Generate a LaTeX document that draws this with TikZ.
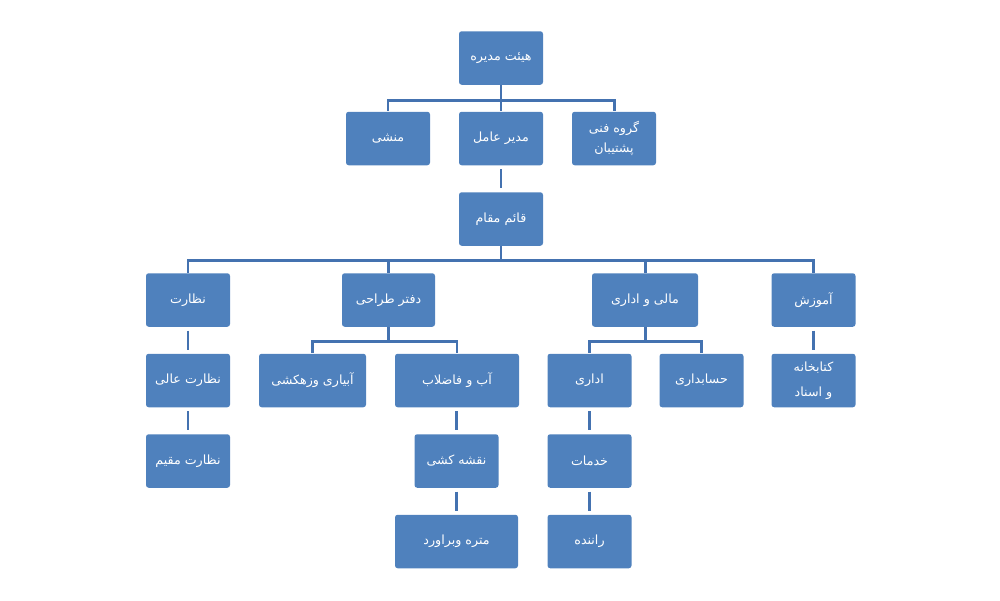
\documentclass[tikz,border=0pt]{standalone}
\usepackage{fontspec}
\newfontfamily\arabicfont[Script=Arabic]{DejaVu Sans}
\TeXXeTstate=1
\newcommand{\rtl}[1]{\beginR#1\endR}
\definecolor{boxblue}{RGB}{79,129,189}
\definecolor{lineblue}{RGB}{68,114,176}
\tikzset{
  box/.style={rectangle, rounded corners=1.5pt, fill=boxblue, text=white, minimum width=1.68cm, minimum height=1.07cm, align=center, font=\arabicfont\fontsize{7.2}{11}\selectfont, inner sep=1pt},
  link/.style={draw=lineblue, line width=1.7pt},
}
\begin{document}
\begin{tikzpicture}
	\useasboundingbox (0,0) rectangle (20,-12);
	% هیئت مدیره و زیرمجموعه
	\node[box] (board) at (10.02,-1.16) {\rtl{هیئت مدیره}};
	\node[box] (secretary) at (7.76,-2.77) {\rtl{منشی}};
	\node[box] (ceo) at (10.02,-2.77) {\rtl{مدیر عامل}};
	\node[box] (techgroup) at (12.28,-2.77) {\rtl{گروه فنی}\\\rtl{پشتیبان}};
	\node[box] (deputy) at (10.02,-4.38) {\rtl{قائم مقام}};
	% ردیف سوم
	\node[box] (supervision) at (3.76,-6.0) {\rtl{نظارت}};
	\node[box, minimum width=1.86cm] (design) at (7.77,-6.0) {\rtl{دفتر طراحی}};
	\node[box, minimum width=2.12cm] (finance) at (12.9,-6.0) {\rtl{مالی و اداری}};
	\node[box] (training) at (16.27,-6.0) {\rtl{آموزش}};
	% ردیف چهارم
	\node[box] (highsup) at (3.76,-7.61) {\rtl{نظارت عالی}};
	\node[box, minimum width=2.14cm] (irrigation) at (6.25,-7.61) {\rtl{آبیاری وزهکشی}};
	\node[box, minimum width=2.48cm] (water) at (9.14,-7.61) {\rtl{آب و فاضلاب}};
	\node[box] (admin) at (11.79,-7.61) {\rtl{اداری}};
	\node[box] (accounting) at (14.03,-7.61) {\rtl{حسابداری}};
	\node[box] (library) at (16.27,-7.61) {\rtl{کتابخانه}\\[3pt]\rtl{و اسناد}};
	% ردیف پنجم و ششم
	\node[box] (residentsup) at (3.76,-9.22) {\rtl{نظارت مقیم}};
	\node[box] (drafting) at (9.13,-9.22) {\rtl{نقشه کشی}};
	\node[box] (services) at (11.79,-9.22) {\rtl{خدمات}};
	\node[box, minimum width=2.46cm] (estimate) at (9.13,-10.83) {\rtl{متره وبراورد}};
	\node[box] (driver) at (11.79,-10.83) {\rtl{راننده}};
	% اتصال ها
	\draw[link] (board.south) -- (board.south |- 0,-2.0) coordinate (f1);
	\draw[link] (f1) -| (secretary.north);
	\draw[link] (f1) -| (techgroup.north);
	\draw[link] (f1) -- (ceo.north);
	\draw[link, shorten <=2pt, shorten >=2pt] (ceo) -- (deputy);
	\draw[link] (deputy.south) -- (deputy.south |- 0,-5.2) coordinate (f2);
	\foreach \n in {supervision, design, finance, training}
		\draw[link] (f2) -| (\n.north);
	\draw[link] (design.south) -- (design.south |- 0,-6.82) coordinate (f3);
	\draw[link] (f3) -| (irrigation.north);
	\draw[link] (f3) -| (water.north);
	\draw[link] (finance.south) -- (finance.south |- 0,-6.82) coordinate (f4);
	\draw[link] (f4) -| (admin.north);
	\draw[link] (f4) -| (accounting.north);
	\draw[link, shorten <=2pt, shorten >=2pt] (training) -- (library);
	\draw[link, shorten <=2pt, shorten >=2pt] (supervision) -- (highsup);
	\draw[link, shorten <=2pt, shorten >=2pt] (highsup) -- (residentsup);
	\draw[link, shorten <=2pt, shorten >=2pt] (water.south -| drafting) -- (drafting);
	\draw[link, shorten <=2pt, shorten >=2pt] (drafting) -- (estimate);
	\draw[link, shorten <=2pt, shorten >=2pt] (admin) -- (services);
	\draw[link, shorten <=2pt, shorten >=2pt] (services) -- (driver);
\end{tikzpicture}
\end{document}
